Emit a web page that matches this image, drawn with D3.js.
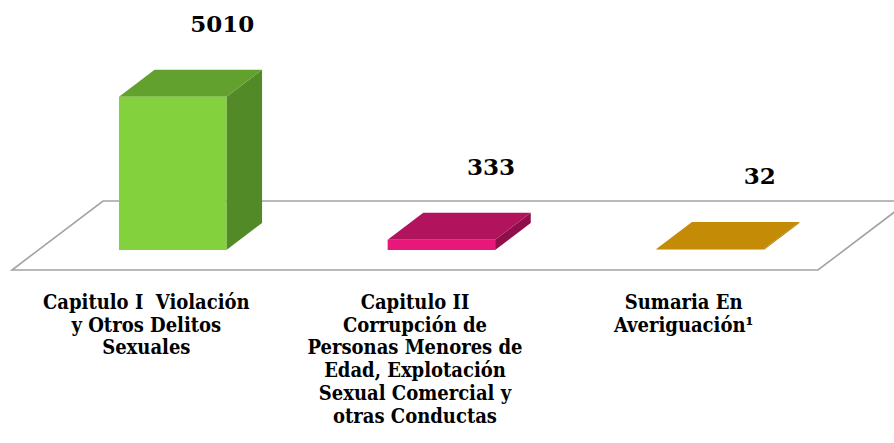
<!DOCTYPE html>
<html><head><meta charset="utf-8">
<script src="https://cdn.jsdelivr.net/npm/d3@7"></script>
<style>body{margin:0;background:#fff}svg{display:block}
text.cat{white-space:pre;font-family:"DejaVu Serif Condensed","DejaVu Serif",serif;font-stretch:condensed;}
</style>
</head><body><svg id="c" width="894" height="443"></svg>
<script>
const categories = [
  "Capitulo I  Violación y Otros Delitos Sexuales",
  "Capitulo II Corrupción de Personas Menores de Edad, Explotación Sexual Comercial y otras Conductas",
  "Sumaria En Averiguación¹"
];
const categoryLines = [
  ["Capitulo I  Violación", "y Otros Delitos", "Sexuales"],
  ["Capitulo II", "Corrupción de", "Personas Menores de", "Edad, Explotación", "Sexual Comercial y", "otras Conductas"],
  ["Sumaria En", "Averiguación¹"]
];
const values = [5010, 333, 32];

const frontColors = ["#84D13E", "#E8187A", "#F2C23C"];
const topColors   = ["#63A12E", "#B1135C", "#C48B06"];
const sideColors  = ["#528A27", "#8F0F4B", "#A47305"];

const svg = d3.select("#c");
const floorFront = 270, floorDepthY = 69, floorDepthX = 91;
const kx = floorDepthX / floorDepthY;
const frontDepth = 20, backDepth = 47;

const x = d3.scaleBand().domain(categories).range([12, 818]).paddingInner(0.6).paddingOuter(0.3);
const h = d3.scaleLinear().domain([0, 6000]).range([0, 183.4]);

// floor
const fl = x.range()[0], fr = x.range()[1];
svg.append("path")
  .attr("d", `M${fl},${floorFront}L${fr},${floorFront}L${fr+floorDepthX},${floorFront-floorDepthY}L${fl+floorDepthX},${floorFront-floorDepthY}Z`)
  .attr("fill", "none").attr("stroke", "#a3a3a3").attr("stroke-width", 1.6);

const dxb = (backDepth - frontDepth) * kx, dyb = backDepth - frontDepth;
const bars = svg.selectAll("g.bar").data(values).join("g").attr("class", "bar");
bars.each(function(v, i) {
  const g = d3.select(this);
  const w = x.bandwidth();
  const x0 = x(categories[i]) + frontDepth * kx;
  const yb = floorFront - frontDepth;
  const yt = yb - h(v);
  g.append("path")
    .attr("d", `M${x0+w},${yt}L${x0+w+dxb},${yt-dyb}L${x0+w+dxb},${yb-dyb}L${x0+w},${yb}Z`)
    .attr("fill", sideColors[i]);
  g.append("path")
    .attr("d", `M${x0},${yt}L${x0+w},${yt}L${x0+w+dxb},${yt-dyb}L${x0+dxb},${yt-dyb}Z`)
    .attr("fill", topColors[i]);
  g.append("rect")
    .attr("x", x0).attr("y", yt).attr("width", w).attr("height", Math.max(1, h(v)))
    .attr("fill", frontColors[i]);
  g.append("text")
    .attr("x", x0 + dxb + w / 2 + 14).attr("y", yt - dyb - 38)
    .attr("text-anchor", "middle")
    .attr("font-family", "DejaVu Serif").attr("font-weight", "bold").attr("font-size", 23)
    .attr("fill", "#000")
    .text(v);
});

// category labels
const lab = svg.selectAll("text.cat").data(categories).join("text").attr("class", "cat")
  .attr("text-anchor", "middle")
  .attr("font-weight", "bold").attr("font-size", 20)
  .attr("fill", "#000");
lab.each(function(c, i) {
  const t = d3.select(this);
  const cx = x(c) + x.bandwidth() / 2;
  categoryLines[i].forEach((ln, j) => {
    t.append("tspan").attr("x", cx).attr("y", 309 + j * 22.7).text(ln);
  });
});
</script></body></html>
